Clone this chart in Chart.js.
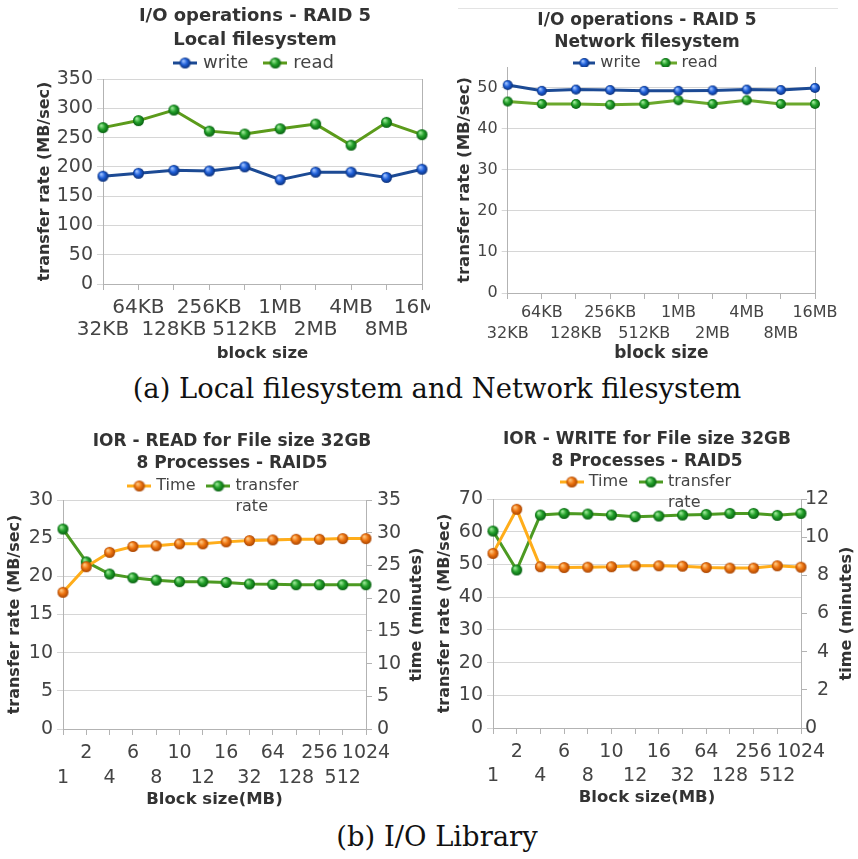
<!DOCTYPE html>
<html>
<head>
<meta charset="utf-8">
<script src="https://cdn.jsdelivr.net/npm/chart.js@4.4.1/dist/chart.umd.min.js"></script>
<style>
  html, body { margin: 0; padding: 0; background: #fff; }
  body { width: 858px; height: 859px; position: relative; overflow: hidden; }
  canvas { position: absolute; }
  .caption { position: absolute; left: 8px; width: 858px; text-align: center; font-family: 'DejaVu Serif', serif; font-size: 27.4px; line-height: 27px; color: #111; }
</style>
</head>
<body>
<canvas id="localChart" width="430" height="365" style="left:0;top:0"></canvas>
<canvas id="nfsChart" width="428" height="365" style="left:430px;top:0"></canvas>
<div style="position:absolute;left:458px;top:8px;width:380px;height:1px;background:#e3e3e3"></div>
<div class="caption" style="top:375px">(a) Local filesystem and Network filesystem</div>
<canvas id="readChart" width="430" height="395" style="left:0;top:420px"></canvas>
<canvas id="writeChart" width="428" height="395" style="left:430px;top:420px"></canvas>
<div class="caption" style="top:823px">(b) I/O Library</div>
<script>
// block sizes of the filesystem test
const fsBlockSizes = ['32KB', '64KB', '128KB', '256KB', '512KB', '1MB', '2MB', '4MB', '8MB', '16MB'];
const localWrite = [184, 189, 194, 193, 200, 178, 191, 191, 182, 196];
const localRead = [267, 279, 297, 261, 256, 265, 273, 237, 276, 255];
const nfsWrite = [50.6, 49.2, 49.5, 49.4, 49.2, 49.2, 49.3, 49.5, 49.4, 49.9];
const nfsRead = [46.6, 46.0, 46.0, 45.8, 46.0, 46.9, 46.0, 46.9, 46.0, 46.0];

// IOR, block size in MB
const iorBlockSizes = ['1', '2', '4', '6', '8', '10', '12', '16', '32', '64', '128', '256', '512', '1024'];
const readTime = [20.9, 24.8, 27.0, 27.9, 28.0, 28.3, 28.3, 28.6, 28.8, 28.9, 29.0, 29.0, 29.1, 29.1];
const readRate = [26.2, 21.9, 20.3, 19.8, 19.5, 19.3, 19.3, 19.2, 19.0, 18.95, 18.9, 18.9, 18.9, 18.9];
const writeTime = [9.15, 11.46, 8.45, 8.41, 8.43, 8.45, 8.50, 8.50, 8.48, 8.41, 8.38, 8.38, 8.50, 8.43];
const writeRate = [60.2, 48.3, 65.1, 65.6, 65.4, 65.1, 64.6, 64.8, 65.1, 65.3, 65.6, 65.6, 65.0, 65.6];

const FONT = 'DejaVu Sans';
const TEXT = '#333';
const TICK = '#444';
const AXIS = '#b3b3b3';
const GRID = '#d6d6d6';

Chart.defaults.font.family = FONT;

function sphere(base, light, dark, r) {
    const c = document.createElement('canvas');
    const s = Math.ceil(r * 2 + 2);
    c.width = s; c.height = s;
    const g = c.getContext('2d');
    const grad = g.createRadialGradient(s / 2 - r * 0.35, s / 2 - r * 0.4, r * 0.1, s / 2, s / 2, r);
    grad.addColorStop(0, light);
    grad.addColorStop(0.5, base);
    grad.addColorStop(1, dark);
    g.fillStyle = grad;
    g.beginPath();
    g.arc(s / 2, s / 2, r, 0, Math.PI * 2);
    g.fill();
    return c;
}

function legendMark(line, ball, w) {
    const c = document.createElement('canvas');
    c.width = w; c.height = ball.height;
    const g = c.getContext('2d');
    g.strokeStyle = line;
    g.lineWidth = 3;
    g.beginPath();
    g.moveTo(0, c.height / 2);
    g.lineTo(w, c.height / 2);
    g.stroke();
    g.drawImage(ball, (w - ball.width) / 2, 0);
    return c;
}

const blueBall = sphere('#1f5fd8', '#9fc2ff', '#0a2f78', 5.5);
const greenBall = sphere('#22a02a', '#9ee898', '#075f10', 5.5);
const orangeBall = sphere('#ee7410', '#ffc880', '#a84400', 5.5);

function series(label, data, line, ball, markW, axis) {
    return {
        label, data,
        borderColor: line, backgroundColor: line, borderWidth: 3,
        pointStyle: ball, pointRadius: 5, pointHoverRadius: 5,
        legendMark: legendMark(line, ball, markW),
        yAxisID: axis || 'y', tension: 0, clip: false
    };
}

// draws the wrapped second line of a legend entry and a bottom-to-top right axis title
const extras = {
    id: 'extras',
    afterDraw(chart, args, opts) {
        const ctx = chart.ctx;
        ctx.save();
        if (opts.legendTail) {
            const t = opts.legendTail;
            const hb = chart.legend.legendHitBoxes[t.index];
            ctx.font = t.size + 'px ' + FONT;
            ctx.textAlign = 'left';
            ctx.textBaseline = 'middle';
            ctx.fillStyle = TICK;
            ctx.fillText(t.text, hb.left + t.boxWidth + t.size / 2, hb.top + t.size / 2 + t.dy);
        }
        if (opts.rightTitle) {
            const r = opts.rightTitle;
            const a = chart.chartArea;
            ctx.fillStyle = TEXT;
            ctx.font = 'bold ' + r.size + 'px ' + FONT;
            ctx.textAlign = 'center';
            ctx.textBaseline = 'middle';
            ctx.translate(a.right + r.dx, (a.top + a.bottom) / 2);
            ctx.rotate(-Math.PI / 2);
            ctx.fillText(r.text, 0, 0);
        }
        ctx.restore();
    }
};

function legendOpts(size, padding, markW, maxHeight, fullSize, firstWordOnly) {
    return {
        position: 'top', maxHeight, fullSize,
        labels: {
            usePointStyle: true, pointStyleWidth: markW - 6, padding,
            font: { size, family: FONT }, color: TICK,
            generateLabels(chart) {
                return chart.data.datasets.map((ds, i) => ({
                    text: firstWordOnly && i === 1 ? ds.label.split(' ')[0] : ds.label,
                    pointStyle: ds.legendMark, datasetIndex: i, fontColor: TICK,
                    fillStyle: ds.borderColor, strokeStyle: ds.borderColor, lineWidth: 0, hidden: false
                }));
            }
        }
    };
}

function staggered() {
    return function (v, i) {
        const t = this.getLabelForValue(v);
        return i % 2 ? [t, ''] : ['', t];
    };
}

function xScale(o) {
    return {
        ticks: { autoSkip: false, maxRotation: 0, color: TICK, padding: o.pad, font: { size: o.size, lineHeight: o.lh }, callback: staggered() },
        grid: {
            drawOnChartArea: true, tickLength: 6, tickColor: AXIS,
            color: c => (o.rightBorder && c.index === o.n - 1) ? AXIS : 'rgba(0,0,0,0)'
        },
        border: { color: AXIS },
        title: { display: true, text: o.title, color: TEXT, font: { size: o.titleSize, weight: 'bold' }, padding: { top: 0, bottom: o.titleBottom } },
        afterFit(s) { s.height = o.height; s.paddingLeft = 0; s.paddingRight = o.padRight; }
    };
}

function yScale(o) {
    return {
        position: o.position || 'left',
        min: o.min, max: o.max,
        ticks: {
            stepSize: o.step, color: TICK, padding: o.pad, font: { size: o.size },
            callback: o.callback || (v => v)
        },
        grid: o.position === 'right'
            ? { drawOnChartArea: false, tickLength: 6, color: AXIS }
            : { color: GRID, tickLength: 6, tickColor: GRID },
        border: { color: AXIS },
        title: o.title ? { display: true, text: o.title, color: TEXT, font: { size: o.titleSize, weight: 'bold' }, padding: { top: o.titleTop, bottom: 0 } } : { display: false },
        afterFit(s) { s.width = o.width; }
    };
}

function baseOptions(o) {
    return {
        responsive: false, animation: false, devicePixelRatio: 1,
        layout: { padding: o.padding },
        events: [],
        plugins: {
            title: {
                display: true, text: o.title, color: TEXT,
                font: { size: o.titleSize, weight: 'bold', lineHeight: o.titleLh / o.titleSize },
                padding: { top: o.titleTop, bottom: o.titleBottom }
            },
            legend: o.legend,
            tooltip: { enabled: false },
            extras: o.extras || {}
        },
        scales: o.scales
    };
}

// (a) local filesystem
new Chart(document.getElementById('localChart'), {
    type: 'line',
    data: {
        labels: fsBlockSizes,
        datasets: [
            series('write', localWrite, '#1c4a94', blueBall, 24),
            series('read', localRead, '#5b9b1b', greenBall, 24)
        ]
    },
    options: baseOptions({
        padding: { left: 0, right: -80, top: 0, bottom: 0 },
        title: ['I/O operations - RAID 5', 'Local filesystem'], titleSize: 18, titleLh: 24, titleTop: 4, titleBottom: -16,
        legend: legendOpts(18, 18, 24, 43, true),
        scales: {
            x: xScale({ n: fsBlockSizes.length, rightBorder: true, pad: 7, size: 20, lh: 1.1, title: 'block size', titleSize: 16.5, titleBottom: 1.2, height: 81, padRight: 7 }),
            y: yScale({ min: 0, max: 350, step: 50, pad: 4, size: 19, width: 103, title: 'transfer rate (MB/sec)', titleSize: 16, titleTop: 35.4 })
        }
    }),
    plugins: [extras]
});

// (a) network filesystem
new Chart(document.getElementById('nfsChart'), {
    type: 'line',
    data: {
        labels: fsBlockSizes,
        datasets: [
            series('write', nfsWrite, '#1c4a94', sphere('#1f5fd8', '#9fc2ff', '#0a2f78', 5), 22),
            series('read', nfsRead, '#6aa82c', sphere('#22a02a', '#9ee898', '#075f10', 5), 22)
        ]
    },
    options: baseOptions({
        padding: { left: 6, right: 0, top: 0, bottom: 0 },
        title: ['I/O operations - RAID 5', 'Network filesystem'], titleSize: 17, titleLh: 22, titleTop: 10, titleBottom: -16,
        legend: legendOpts(16, 17, 22, 29, true),
        scales: {
            x: xScale({ n: fsBlockSizes.length, rightBorder: true, pad: 3.5, size: 16, lh: 1.3, title: 'block size', titleSize: 17, titleBottom: 0.8, height: 72, padRight: 43 }),
            y: yScale({ min: 0, max: 55, step: 5, pad: 4, size: 16, width: 71.7, callback: v => (v % 10 === 0 ? v : ''), title: 'transfer rate (MB/sec)', titleSize: 16.5, titleTop: 19.1 })
        }
    }),
    plugins: [extras]
});

// (b) IOR read
new Chart(document.getElementById('readChart'), {
    type: 'line',
    data: {
        labels: iorBlockSizes,
        datasets: [
            series('Time', readTime, '#ffad1a', orangeBall, 24, 'y1'),
            series('transfer rate', readRate, '#4c9a22', greenBall, 24, 'y')
        ]
    },
    options: baseOptions({
        padding: { left: 0, right: -34, top: 0, bottom: 0 },
        title: ['IOR - READ for File size 32GB', '8 Processes - RAID5'], titleSize: 17, titleLh: 22, titleTop: 11, titleBottom: -11,
        legend: legendOpts(16, 14, 24, 36, false, true),
        extras: {
            legendTail: { index: 1, text: 'rate', size: 16, boxWidth: 18, dy: 21 },
            rightTitle: { text: 'time (minutes)', size: 16, dx: 51 }
        },
        scales: {
            x: xScale({ n: iorBlockSizes.length, rightBorder: false, pad: 5.5, size: 19, lh: 25 / 19, title: 'Block size(MB)', titleSize: 16.5, titleBottom: 5.5, height: 86, padRight: 0 }),
            y: yScale({ min: 0, max: 30, step: 5, pad: 4, size: 19, width: 63, title: 'transfer rate (MB/sec)', titleSize: 16, titleTop: 5.4 }),
            y1: yScale({ position: 'right', min: 0, max: 35, step: 5, pad: 5, size: 19, width: 98 })
        }
    }),
    plugins: [extras]
});

// (b) IOR write, right labels below 10 are set flush right as in the original
new Chart(document.getElementById('writeChart'), {
    type: 'line',
    data: {
        labels: iorBlockSizes,
        datasets: [
            series('Time', writeTime, '#ffad1a', orangeBall, 24, 'y1'),
            series('transfer rate', writeRate, '#4c9a22', greenBall, 24, 'y')
        ]
    },
    options: baseOptions({
        padding: { left: 0, right: -6, top: 0, bottom: 0 },
        title: ['IOR - WRITE for File size 32GB', '8 Processes - RAID5'], titleSize: 17, titleLh: 22, titleTop: 9, titleBottom: -13,
        legend: legendOpts(16, 14, 24, 39, false, true),
        extras: {
            legendTail: { index: 1, text: 'rate', size: 16, boxWidth: 18, dy: 21 },
            rightTitle: { text: 'time (minutes)', size: 16, dx: 46 }
        },
        scales: {
            x: xScale({ n: iorBlockSizes.length, rightBorder: false, pad: 6, size: 19, lh: 24 / 19, title: 'Block size(MB)', titleSize: 16.5, titleBottom: 7.5, height: 87, padRight: 0 }),
            y: yScale({ min: 0, max: 70, step: 10, pad: 4, size: 19, width: 63, title: 'transfer rate (MB/sec)', titleSize: 16, titleTop: 5.4 }),
            y1: yScale({ position: 'right', min: 0, max: 12, step: 2, pad: -2, size: 19, width: 63,
                callback: v => (v > 0 && v < 10 ? '\u2007' + v : '' + v) })
        }
    }),
    plugins: [extras]
});
</script>
</body>
</html>
